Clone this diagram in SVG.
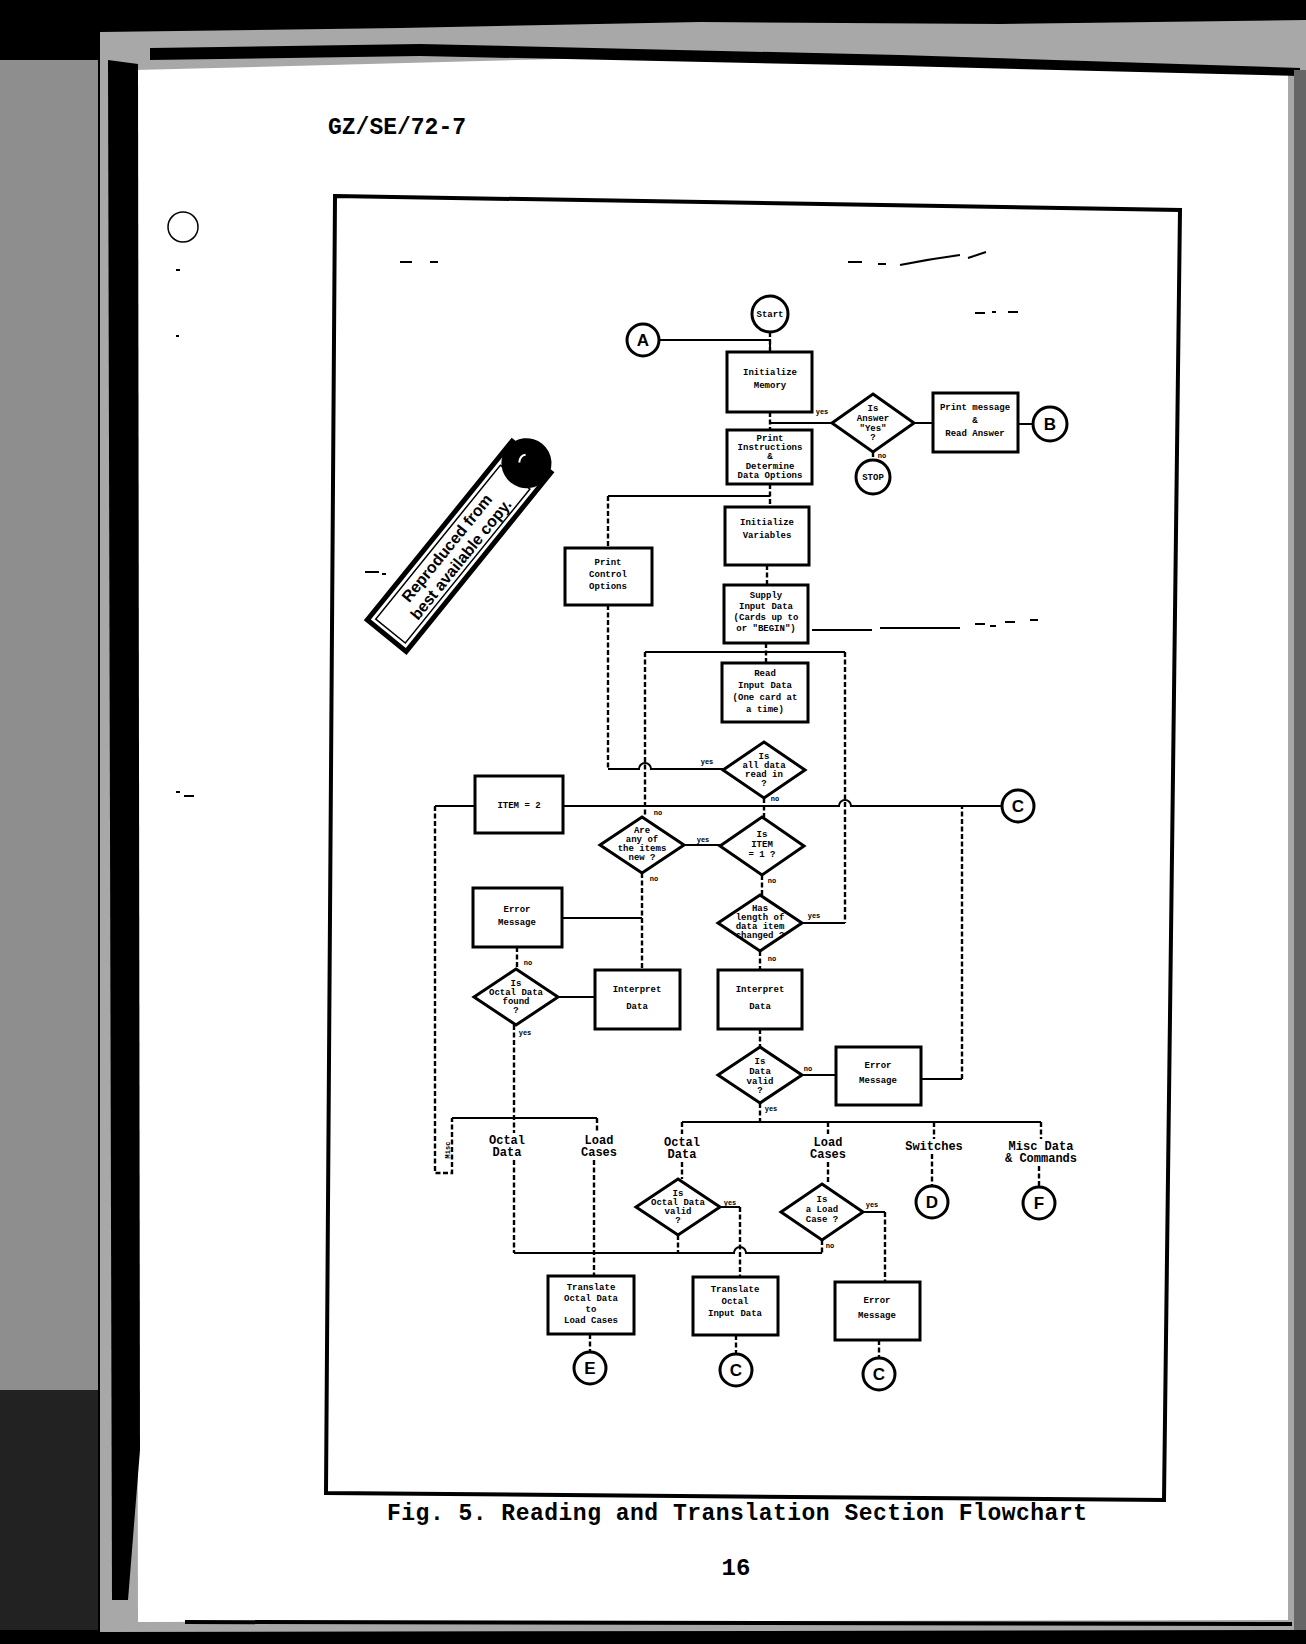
<svg xmlns="http://www.w3.org/2000/svg" width="1306" height="1644" viewBox="0 0 1306 1644">
<style>
.box{fill:#fff;stroke:#000;stroke-width:3}
.dia{fill:#fff;stroke:#000;stroke-width:3;stroke-linejoin:miter}
.circ{fill:#fff;stroke:#000;stroke-width:3}
.c{fill:none;stroke:#000;stroke-width:2}
.v{fill:none;stroke:#000;stroke-width:2.4;stroke-dasharray:5 2.5}
.t{font-family:"Liberation Mono",monospace;font-weight:bold;font-size:9px;fill:#000;text-anchor:middle}
.lbl{font-family:"Liberation Mono",monospace;font-weight:bold;font-size:12px;fill:#000;text-anchor:middle}
.yn{font-family:"Liberation Mono",monospace;font-weight:bold;font-size:7px;fill:#000;text-anchor:middle}
.ct{font-family:"Liberation Sans",Arial,sans-serif;font-weight:bold;font-size:17px;fill:#000;text-anchor:middle}
.mark{fill:none;stroke:#000;stroke-width:2}
</style>

<!-- scanned page background -->
<rect x="0" y="0" width="1306" height="1644" fill="#000"/>
<polygon points="100,32 400,28 700,22 1000,24 1306,20 1306,1630 100,1632" fill="#a8a8a8"/>
<polygon points="135,70 600,58 1000,64 1288,72 1288,1620 138,1622" fill="#fff"/>
<polygon points="150,48 420,44 900,55 1300,68 1300,76 900,66 420,56 150,60" fill="#000"/>
<polygon points="108,60 138,64 140,1450 128,1600 112,1600" fill="#000"/>
<rect x="0" y="60" width="98" height="1330" fill="#8e8e8e"/>
<rect x="0" y="1390" width="98" height="240" fill="#222"/>
<rect x="1294" y="70" width="12" height="1560" fill="#666"/>
<line x1="185" y1="1622" x2="1292" y2="1624" stroke="#000" stroke-width="4"/>
<rect x="0" y="1632" width="1306" height="12" fill="#000"/>

<!-- punch hole and header -->
<circle cx="183" cy="227" r="15" fill="#fff" stroke="#000" stroke-width="1.5"/>
<text x="328" y="134" font-family="Liberation Mono,monospace" font-weight="bold" font-size="23" fill="#000">GZ/SE/72-7</text>

<!-- frame -->
<polygon points="335,196 1180,210 1164,1500 326,1493" fill="none" stroke="#000" stroke-width="4"/>

<!-- scan marks -->
<g id="scan-marks">
<path class="mark" d="M400 262h12 M430 262h8 M848 262h14 M878 264h8 M900 265q30 -6 60 -10 M968 258l18 -6"/>
<path class="mark" d="M975 313h10 M992 312h4 M1008 312h10 M812 630h60 M880 628h80 M975 624h10 M990 626h6 M1005 622h10 M1030 620h8"/>
<path class="mark" d="M365 572h14 M382 574h4 M176 792h4 M184 796h10 M176 270h4 M176 336h3"/>
</g>

<!-- stamp -->
<g id="stamp" transform="translate(461,544) rotate(-51)">
<rect x="-118" y="-25" width="230" height="50" fill="#fff" stroke="#000" stroke-width="5"/>
<rect x="-112" y="-19" width="198" height="38" fill="none" stroke="#000" stroke-width="1.5"/>
<circle cx="104" cy="0" r="25" fill="#000"/>
<path d="M100 -6q6 -4 10 0" stroke="#fff" stroke-width="2" fill="none"/>
<text x="-12" y="-3" font-family="Liberation Sans,Arial,sans-serif" font-weight="bold" font-size="16" text-anchor="middle" fill="#000">Reproduced from</text>
<text x="-12" y="15" font-family="Liberation Sans,Arial,sans-serif" font-weight="bold" font-size="16" text-anchor="middle" fill="#000">best available copy.</text>
</g>

<!-- connectors -->
<g id="connectors">
<path class="c" d="M659 340H770V352"/>
<path class="v" d="M770 332V352"/>
<path class="v" d="M770 412V430"/>
<path class="c" d="M832 423H770"/>
<path class="c" d="M914 423H933"/>
<path class="c" d="M1018 424H1033"/>
<path class="v" d="M873 452V460"/>
<path class="v" d="M770 484V507"/>
<path class="c" d="M770 496H608"/>
<path class="v" d="M608 496V548"/>
<path class="v" d="M608 605V769"/>
<path class="c" d="M608 769H639a6 6 0 0 1 12 0H723"/>
<path class="v" d="M767 565V585"/>
<path class="v" d="M766 643V663"/>
<path class="c" d="M645 652H845"/>
<path class="v" d="M645 652V817"/>
<path class="v" d="M845 652V923"/>
<path class="c" d="M845 923H802"/>
<path class="v" d="M764 798V817"/>
<path class="c" d="M563 806H839a6 6 0 0 1 12 0H1002"/>
<path class="c" d="M475 806H435"/>
<path class="v" d="M435 806V1173H452V1118"/>
<path class="c" d="M452 1118H597"/>
<path class="c" d="M684 845H720"/>
<path class="v" d="M642 873V970"/>
<path class="c" d="M562 918H642"/>
<path class="v" d="M517 947V969"/>
<path class="c" d="M558 997H595"/>
<path class="v" d="M514 1025V1133 M514 1160V1253"/>
<path class="v" d="M597 1118V1133 M594 1160V1276"/>
<path class="c" d="M514 1253H734a6 6 0 0 1 12 0H822"/>
<path class="v" d="M762 875V895"/>
<path class="v" d="M760 951V970"/>
<path class="v" d="M760 1029V1047"/>
<path class="c" d="M802 1075H836"/>
<path class="c" d="M921 1079H962"/>
<path class="v" d="M962 1079V806"/>
<path class="v" d="M760 1103V1122"/>
<path class="c" d="M682 1122H1041"/>
<path class="v" d="M682 1122V1134 M682 1162V1179"/>
<path class="v" d="M828 1122V1134 M828 1162V1184"/>
<path class="v" d="M934 1122V1139 M932 1154V1186"/>
<path class="v" d="M1041 1122V1139 M1039 1166V1187"/>
<path class="v" d="M678 1235V1253"/>
<path class="c" d="M720 1207H740"/>
<path class="v" d="M740 1207V1277"/>
<path class="v" d="M822 1240V1253"/>
<path class="c" d="M863 1212H885"/>
<path class="v" d="M885 1212V1282"/>
<path class="v" d="M590 1334V1352"/>
<path class="v" d="M736 1335V1354"/>
<path class="v" d="M879 1340V1358"/>
<!-- connector labels -->
<text class="yn" x="822" y="414">yes</text>
<text class="yn" x="882" y="458">no</text>
<text class="yn" x="707" y="764">yes</text>
<text class="yn" x="658" y="815">no</text>
<text class="yn" x="775" y="801">no</text>
<text class="yn" x="703" y="842">yes</text>
<text class="yn" x="654" y="881">no</text>
<text class="yn" x="772" y="883">no</text>
<text class="yn" x="814" y="918">yes</text>
<text class="yn" x="772" y="961">no</text>
<text class="yn" x="528" y="965">no</text>
<text class="yn" x="525" y="1035">yes</text>
<text class="yn" x="808" y="1071">no</text>
<text class="yn" x="771" y="1111">yes</text>
<text class="yn" x="730" y="1205">yes</text>
<text class="yn" x="872" y="1207">yes</text>
<text class="yn" x="830" y="1248">no</text>
<text class="lbl" x="507" y="1144">Octal</text>
<text class="lbl" x="507" y="1156">Data</text>
<text class="lbl" x="599" y="1144">Load</text>
<text class="lbl" x="599" y="1156">Cases</text>
<text class="lbl" x="682" y="1146">Octal</text>
<text class="lbl" x="682" y="1158">Data</text>
<text class="lbl" x="828" y="1146">Load</text>
<text class="lbl" x="828" y="1158">Cases</text>
<text class="lbl" x="934" y="1150">Switches</text>
<text class="lbl" x="1041" y="1150">Misc Data</text>
<text class="lbl" x="1041" y="1162">&amp; Commands</text>
<text class="yn" transform="translate(450,1150) rotate(-90)">Misc</text>
</g>

<!-- nodes -->
<g id="n-start"><circle class="circ" cx="770" cy="314" r="18"/><text class="t" x="770" y="317" font-size="7">Start</text></g>
<g id="n-A"><circle class="circ" cx="643" cy="340" r="16"/><text class="ct" x="643" y="346">A</text></g>
<g id="n-init-memory"><rect class="box" x="727" y="352" width="85" height="60"/><text class="t" x="770" y="375">Initialize</text><text class="t" x="770" y="388">Memory</text></g>
<g id="n-print-instr"><rect class="box" x="727" y="430" width="85" height="54"/><text class="t" x="770" y="441" font-size="8.5">Print</text><text class="t" x="770" y="450" font-size="8.5">Instructions</text><text class="t" x="770" y="459" font-size="8.5">&amp;</text><text class="t" x="770" y="469" font-size="8.5">Determine</text><text class="t" x="770" y="478" font-size="8.5">Data Options</text></g>
<g id="n-answer"><polygon class="dia" points="873,394 914,423 873,452 832,423"/><text class="t" x="873" y="411" font-size="7.5">Is</text><text class="t" x="873" y="421" font-size="7.5">Answer</text><text class="t" x="873" y="431" font-size="7.5">"Yes"</text><text class="t" x="873" y="440" font-size="7.5">?</text></g>
<g id="n-print-msg"><rect class="box" x="933" y="393" width="85" height="59"/><text class="t" x="975" y="410" font-size="8.5">Print message</text><text class="t" x="975" y="423">&amp;</text><text class="t" x="975" y="436">Read Answer</text></g>
<g id="n-B"><circle class="circ" cx="1050" cy="424" r="17"/><text class="ct" x="1050" y="430">B</text></g>
<g id="n-stop"><circle class="circ" cx="873" cy="477" r="17"/><text class="t" x="873" y="480" font-size="7">STOP</text></g>
<g id="n-init-var"><rect class="box" x="725" y="507" width="84" height="58"/><text class="t" x="767" y="525">Initialize</text><text class="t" x="767" y="538">Variables</text></g>
<g id="n-print-ctl"><rect class="box" x="565" y="548" width="87" height="57"/><text class="t" x="608" y="565">Print</text><text class="t" x="608" y="577">Control</text><text class="t" x="608" y="589">Options</text></g>
<g id="n-supply"><rect class="box" x="724" y="585" width="84" height="58"/><text class="t" x="766" y="598">Supply</text><text class="t" x="766" y="609">Input Data</text><text class="t" x="766" y="620" font-size="8.5">(Cards up to</text><text class="t" x="766" y="631" font-size="8.5">or "BEGIN")</text></g>
<g id="n-read"><rect class="box" x="722" y="663" width="86" height="59"/><text class="t" x="765" y="676">Read</text><text class="t" x="765" y="688">Input Data</text><text class="t" x="765" y="700" font-size="8.5">(One card at</text><text class="t" x="765" y="712">a time)</text></g>
<g id="n-alldata"><polygon class="dia" points="764,742 805,770 764,798 723,770"/><text class="t" x="764" y="759" font-size="7.5">Is</text><text class="t" x="764" y="768" font-size="7.5">all data</text><text class="t" x="764" y="777" font-size="7.5">read in</text><text class="t" x="764" y="786" font-size="7.5">?</text></g>
<g id="n-item2"><rect class="box" x="475" y="776" width="88" height="57"/><text class="t" x="519" y="808" font-size="11">ITEM = 2</text></g>
<g id="n-dec1"><polygon class="dia" points="642,817 684,845 642,873 600,845"/><text class="t" x="642" y="833" font-size="7.5">Are</text><text class="t" x="642" y="842" font-size="7.5">any of</text><text class="t" x="642" y="851" font-size="7.5">the items</text><text class="t" x="642" y="860" font-size="7.5">new ?</text></g>
<g id="n-dec2"><polygon class="dia" points="762,817 804,846 762,875 720,846"/><text class="t" x="762" y="837" font-size="7.5">Is</text><text class="t" x="762" y="847" font-size="7.5">ITEM</text><text class="t" x="762" y="857" font-size="7.5">= 1 ?</text></g>
<g id="n-dec3"><polygon class="dia" points="760,895 802,923 760,951 718,923"/><text class="t" x="760" y="911" font-size="7">Has</text><text class="t" x="760" y="920" font-size="7">length of</text><text class="t" x="760" y="929" font-size="7">data item</text><text class="t" x="760" y="938" font-size="7">changed ?</text></g>
<g id="n-err1"><rect class="box" x="473" y="888" width="89" height="59"/><text class="t" x="517" y="912">Error</text><text class="t" x="517" y="925">Message</text></g>
<g id="n-found"><polygon class="dia" points="516,969 558,997 516,1025 474,997"/><text class="t" x="516" y="986" font-size="7.5">Is</text><text class="t" x="516" y="995" font-size="7.5">Octal Data</text><text class="t" x="516" y="1004" font-size="7.5">found</text><text class="t" x="516" y="1013" font-size="7.5">?</text></g>
<g id="n-interp1"><rect class="box" x="595" y="970" width="85" height="59"/><text class="t" x="637" y="992">Interpret</text><text class="t" x="637" y="1009">Data</text></g>
<g id="n-interp2"><rect class="box" x="718" y="970" width="84" height="59"/><text class="t" x="760" y="992">Interpret</text><text class="t" x="760" y="1009">Data</text></g>
<g id="n-valid"><polygon class="dia" points="760,1047 802,1075 760,1103 718,1075"/><text class="t" x="760" y="1064" font-size="7.5">Is</text><text class="t" x="760" y="1074" font-size="7.5">Data</text><text class="t" x="760" y="1084" font-size="7.5">valid</text><text class="t" x="760" y="1093" font-size="7.5">?</text></g>
<g id="n-err2"><rect class="box" x="836" y="1047" width="85" height="58"/><text class="t" x="878" y="1068">Error</text><text class="t" x="878" y="1083">Message</text></g>
<g id="n-dec4"><polygon class="dia" points="678,1179 720,1207 678,1235 636,1207"/><text class="t" x="678" y="1196" font-size="7.5">Is</text><text class="t" x="678" y="1205" font-size="7.5">Octal Data</text><text class="t" x="678" y="1214" font-size="7.5">valid</text><text class="t" x="678" y="1223" font-size="7.5">?</text></g>
<g id="n-dec5"><polygon class="dia" points="822,1184 863,1212 822,1240 781,1212"/><text class="t" x="822" y="1202" font-size="7.5">Is</text><text class="t" x="822" y="1212" font-size="7.5">a Load</text><text class="t" x="822" y="1222" font-size="7.5">Case ?</text></g>
<g id="n-D"><circle class="circ" cx="932" cy="1202" r="16"/><text class="ct" x="932" y="1208">D</text></g>
<g id="n-F"><circle class="circ" cx="1039" cy="1203" r="16"/><text class="ct" x="1039" y="1209">F</text></g>
<g id="n-trans1"><rect class="box" x="548" y="1276" width="86" height="58"/><text class="t" x="591" y="1290">Translate</text><text class="t" x="591" y="1301">Octal Data</text><text class="t" x="591" y="1312">to</text><text class="t" x="591" y="1323">Load Cases</text></g>
<g id="n-trans2"><rect class="box" x="693" y="1277" width="85" height="58"/><text class="t" x="735" y="1292">Translate</text><text class="t" x="735" y="1304">Octal</text><text class="t" x="735" y="1316">Input Data</text></g>
<g id="n-err3"><rect class="box" x="835" y="1282" width="85" height="58"/><text class="t" x="877" y="1303">Error</text><text class="t" x="877" y="1318">Message</text></g>
<g id="n-E"><circle class="circ" cx="590" cy="1368" r="16"/><text class="ct" x="590" y="1374">E</text></g>
<g id="n-C1"><circle class="circ" cx="736" cy="1370" r="16"/><text class="ct" x="736" y="1376">C</text></g>
<g id="n-C2"><circle class="circ" cx="879" cy="1374" r="16"/><text class="ct" x="879" y="1380">C</text></g>
<g id="n-C3"><circle class="circ" cx="1018" cy="806" r="16"/><text class="ct" x="1018" y="812">C</text></g>

<!-- caption -->
<text x="387" y="1520" font-family="Liberation Mono,monospace" font-weight="bold" font-size="23" fill="#000" textLength="700">Fig. 5.  Reading and Translation Section Flowchart</text>
<text x="736" y="1575" font-family="Liberation Mono,monospace" font-weight="bold" font-size="24" fill="#000" text-anchor="middle">16</text>
</svg>
